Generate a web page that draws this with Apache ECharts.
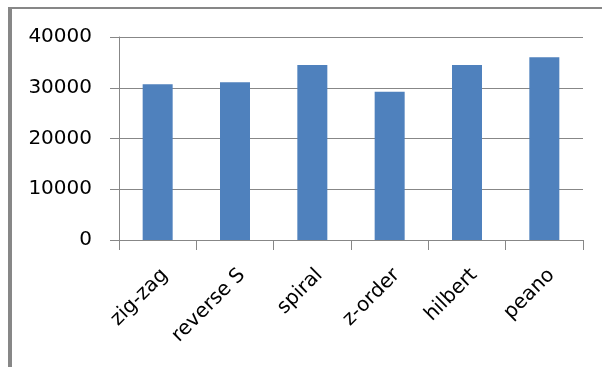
<!DOCTYPE html>
<html>
<head>
<meta charset="utf-8">
<script src="https://cdn.jsdelivr.net/npm/echarts@6/dist/echarts.min.js"></script>
<style>
html,body{margin:0;padding:0;background:#fff;}
#c{width:602px;height:367px;}
</style>
</head>
<body>
<div id="c"></div>
<script>
const categories = ['zig-zag', 'reverse S', 'spiral', 'z-order', 'hilbert', 'peano'];
const values = [30700, 31100, 34500, 29200, 34500, 36000];
const yTicks = [0, 10000, 20000, 30000, 40000];

const chart = echarts.init(document.getElementById('c'), null, {renderer: 'canvas'});
const grey = '#878787';
chart.setOption({
  animation: false,
  backgroundColor: '#fff',
  graphic: [
    {type: 'rect', shape: {x: 8, y: 7, width: 4, height: 360}, style: {fill: grey}, silent: true},
    {type: 'rect', shape: {x: 8, y: 7, width: 594, height: 2}, style: {fill: grey}, silent: true}
  ],
  grid: {left: 119, right: 19, top: 37, bottom: 127, containLabel: false},
  xAxis: {
    type: 'category',
    data: categories,
    axisLine: {show: true, lineStyle: {color: grey, width: 1}},
    axisTick: {show: true, length: 10, lineStyle: {color: grey, width: 1}},
    axisLabel: {
      rotate: 45, margin: 25, align: 'right', verticalAlign: 'top',
      fontFamily: 'DejaVu Sans', fontSize: 20, color: '#000', interval: 0
    }
  },
  yAxis: {
    type: 'value',
    min: yTicks[0], max: yTicks[yTicks.length - 1], interval: yTicks[1] - yTicks[0],
    axisLine: {show: true, lineStyle: {color: grey, width: 1}},
    axisTick: {show: true, length: 9, lineStyle: {color: grey, width: 1}},
    splitLine: {show: true, lineStyle: {color: grey, width: 1}},
    axisLabel: {margin: 27, fontFamily: 'DejaVu Sans', fontSize: 20, color: '#000',
      formatter: function (v) { return String(v); }}
  },
  series: [{
    type: 'bar',
    data: values,
    barWidth: 30,
    itemStyle: {color: '#4F81BD'}
  }]
});
</script>
</body>
</html>
